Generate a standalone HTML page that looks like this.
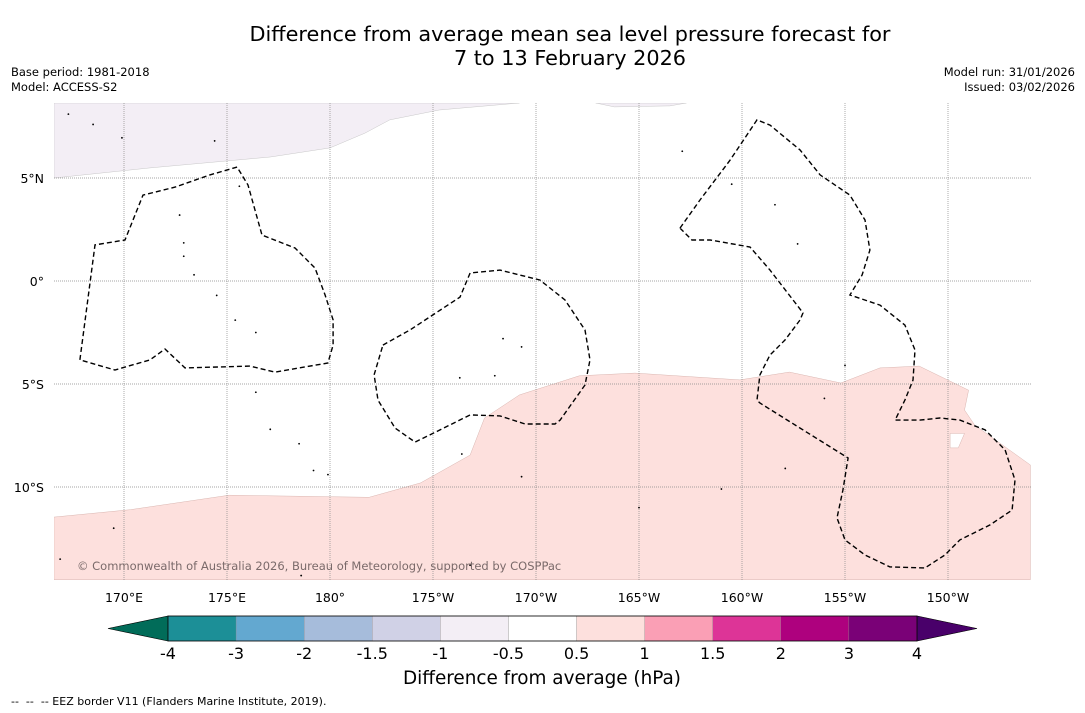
<!DOCTYPE html>
<html><head><meta charset="utf-8">
<style>
body{margin:0;background:#fff;font-family:"DejaVu Sans","Liberation Sans",sans-serif;}
#wrap{position:relative;width:1085px;height:713px;overflow:hidden;}
.t{position:absolute;white-space:nowrap;color:#000;}
</style></head><body>
<div id="wrap">
<div class="t" style="left:0;width:1140px;top:22px;text-align:center;font-size:20.8px;line-height:24px;">Difference from average mean sea level pressure forecast for<br>7 to 13 February 2026</div>
<div class="t" style="left:11px;top:65px;font-size:11.5px;line-height:15px;">Base period: 1981-2018<br>Model: ACCESS-S2</div>
<div class="t" style="right:10px;top:65px;font-size:11.5px;line-height:15px;text-align:right;">Model run: 31/01/2026<br>Issued: 03/02/2026</div>
<svg id="svg" width="1085" height="713" style="position:absolute;left:0;top:0"></svg>
<div class="t" style="left:403px;top:668px;font-size:18.4px;">Difference from average (hPa)</div>
<div class="t" style="left:11px;top:695px;font-size:11px;">--&nbsp; --&nbsp; -- EEZ border V11 (Flanders Marine Institute, 2019).</div>
</div>
<script>
const lonTicks=[170,175,180,185,190,195,200,205,210];
const lonLabels=["170°E","175°E","180°","175°W","170°W","165°W","160°W","155°W","150°W"];
const latTicks=[5,0,-5,-10];
const latLabels=["5°N","0°","5°S","10°S"];
const cbLevels=["-4","-3","-2","-1.5","-1","-0.5","0.5","1","1.5","2","3","4"];
const cbColors=["#1c8f97","#63a8d0","#a6bcdb","#d0d1e6","#f3eef5","#ffffff","#fde0dd","#fa9fb5","#dd3497","#ae017e","#7a0177"];
const cbLow="#016c59", cbHigh="#49006a";
const pinkRegion=[[166.6,-11.46],[170.3,-11.1],[175.1,-10.4],[181.9,-10.5],[184.4,-9.8],[186.8,-8.45],[187.5,-6.65],[189.2,-5.53],[192.1,-4.6],[194.8,-4.47],[199.9,-4.8],[202.3,-4.42],[204.8,-4.95],[206.7,-4.22],[208.6,-4.13],[211.0,-5.3],[210.8,-6.26],[211.3,-7.0],[214.0,-8.93],[214.0,-14.5],[166.6,-14.5]];
const whiteIsland=[[210.1,-7.4],[210.8,-7.4],[210.5,-8.1],[210.1,-8.1]];
const lavRegion=[[166.6,5.0],[171.26,5.49],[177.1,6.02],[180,6.46],[181.7,7.18],[182.9,7.82],[185.3,8.3],[189.2,8.64],[166.6,8.64]];
const lavRegion2=[[192.9,8.64],[193.8,8.45],[196.5,8.5],[197.3,8.64]];
const contourA=[[167.86,-3.83],[168.59,1.75],[170.05,1.99],[170.92,4.17],[172.48,4.56],[174.17,5.15],[175.49,5.53],[176.02,4.66],[176.70,2.23],[178.30,1.6],[179.27,0.63],[179.76,-0.68],[180.15,-1.89],[180.15,-3.11],[179.90,-3.98],[177.33,-4.42],[176.12,-4.13],[172.96,-4.22],[171.99,-3.30],[171.26,-3.83],[169.56,-4.32],[167.86,-3.83]];
const contourB=[[182.57,-3.11],[183.88,-2.38],[186.31,-0.78],[186.80,0.39],[188.25,0.53],[190.19,0.05],[191.41,-0.92],[192.38,-2.38],[192.62,-3.83],[192.38,-5.05],[191.17,-6.75],[190.92,-6.94],[189.47,-6.94],[188.25,-6.55],[186.80,-6.50],[185.34,-7.23],[184.13,-7.82],[183.16,-7.14],[182.33,-5.78],[182.14,-4.56],[182.57,-3.11]];
const contourC=[[196.99,2.57],[197.96,3.93],[199.42,5.87],[200.73,7.82],[201.36,7.57],[202.82,6.36],[203.79,5.15],[205.24,4.17],[205.97,2.96],[206.21,1.50],[205.83,0.29],[205.24,-0.68],[206.70,-1.17],[207.91,-2.14],[208.40,-3.35],[208.30,-4.81],[207.91,-5.78],[207.43,-6.75],[208.64,-6.75],[209.61,-6.65],[210.58,-6.75],[211.80,-7.23],[212.77,-8.20],[213.25,-9.66],[213.11,-11.12],[212.04,-11.84],[210.58,-12.57],[209.85,-13.30],[208.88,-13.93],[207.18,-13.88],[205.97,-13.30],[205.0,-12.57],[204.61,-11.50],[204.90,-10.15],[205.15,-8.59],[202.82,-7.14],[200.87,-5.92],[200.73,-5.78],[200.87,-4.56],[201.36,-3.59],[202.09,-2.86],[202.82,-1.89],[202.96,-1.55],[201.36,0.53],[200.39,1.65],[198.45,1.99],[197.57,1.99],[196.99,2.57]];
const islands=[[167.3,8.1],[168.5,7.6],[169.9,6.95],[174.4,6.8],[175.6,4.6],[172.7,3.2],[172.9,1.85],[172.9,1.2],[173.4,0.3],[174.5,-0.7],[175.4,-1.9],[176.4,-2.5],[176.4,-5.4],[177.1,-7.2],[178.5,-7.9],[179.2,-9.2],[179.9,-9.4],[188.4,-2.8],[189.3,-3.2],[186.3,-4.7],[188.0,-4.6],[201.6,3.7],[202.7,1.8],[205.0,-4.1],[204.0,-5.7],[202.1,-9.1],[199.0,-10.1],[195.0,-11.0],[169.5,-12.0],[197.1,6.3],[199.5,4.7],[186.4,-8.4],[189.3,-9.5],[166.9,-13.5],[178.6,-14.3],[186.8,-13.8]];

const svg=document.getElementById('svg');
const NS='http://www.w3.org/2000/svg';
const FF='DejaVu Sans, Liberation Sans, sans-serif';
const X0=54,X1=1031,Y0=103,Y1=580;
const xs=lon=>124+(lon-170)*20.6;
const ys=lat=>281-lat*20.6;
function mk(t,a,p){const e=document.createElementNS(NS,t);for(const k in a)e.setAttribute(k,a[k]);(p||svg).appendChild(e);return e;}
const clip=mk('clipPath',{id:'mc'});mk('rect',{x:X0,y:Y0,width:X1-X0,height:Y1-Y0},clip);
const g=mk('g',{'clip-path':'url(#mc)'});


const pts=a=>a.map(p=>xs(p[0]).toFixed(1)+','+ys(p[1]).toFixed(1)).join(' ');
let e;
e=mk('polygon',{points:pts(lavRegion),fill:'#f3eef5',stroke:'#bbb','stroke-width':0.4},g);


e=mk('polygon',{points:pts(lavRegion2),fill:'#f3eef5',stroke:'#bbb','stroke-width':0.4},g);


e=mk('polygon',{points:pts(pinkRegion),fill:'#fde0dd',stroke:'#d9b5b0','stroke-width':0.5},g);


e=mk('polygon',{points:pts(whiteIsland),fill:'#fff',stroke:'#d9b5b0','stroke-width':0.5},g);


lonTicks.forEach((l,i)=>{
 e=mk('line',{x1:xs(l),x2:xs(l),y1:Y0,y2:Y1,stroke:'#888','stroke-width':0.7,'stroke-dasharray':'1,1'},g);
 
 
 e=mk('text',{x:xs(l),y:602,'font-size':12.5,'text-anchor':'middle','font-family':FF});
 e.textContent=lonLabels[i];
 
 
});
latTicks.forEach((l,i)=>{
 e=mk('line',{x1:X0,x2:X1,y1:ys(l),y2:ys(l),stroke:'#888','stroke-width':0.7,'stroke-dasharray':'1,1'},g);
 
 
 e=mk('text',{x:44,y:ys(l)+5,'font-size':12.5,'text-anchor':'end','font-family':FF});
 e.textContent=latLabels[i];
 
 
});
islands.forEach(p=>{
 e=mk('circle',{cx:xs(p[0]),cy:ys(p[1]),r:0.9,fill:'#000',stroke:'none'},g);
 
 
});
[contourA,contourB,contourC].forEach(c=>{
 e=mk('polyline',{points:pts(c),fill:'none',stroke:'#000','stroke-width':1.4,'stroke-dasharray':'5,3'},g);
 
 
});
e=mk('text',{x:77,y:570,'font-size':11.5,fill:'#7a6a6a','font-family':FF},g);
e.textContent='© Commonwealth of Australia 2026, Bureau of Meteorology, supported by COSPPac';


// colorbar
const CB0=168,CB1=917,CBY=616,CBH=25,n=cbColors.length,w=(CB1-CB0)/n;
e=mk('polygon',{points:`${CB0},${CBY} ${CB0},${CBY+CBH} 108,${CBY+CBH/2}`,fill:cbLow,stroke:'#000','stroke-width':0.6});


e=mk('polygon',{points:`${CB1},${CBY} ${CB1},${CBY+CBH} 977,${CBY+CBH/2}`,fill:cbHigh,stroke:'#000','stroke-width':0.6});


cbColors.forEach((c,i)=>{
 e=mk('rect',{x:CB0+i*w,y:CBY,width:w,height:CBH,fill:c,stroke:'#888','stroke-width':0.3});
 
 
});
e=mk('rect',{x:CB0,y:CBY,width:CB1-CB0,height:CBH,fill:'none',stroke:'#000','stroke-width':0.8});


cbLevels.forEach((l,i)=>{
 e=mk('text',{x:CB0+i*w,y:659,'font-size':16,'text-anchor':'middle','font-family':FF});
 e.textContent=l;
 
 
});
</script>
</body></html>
